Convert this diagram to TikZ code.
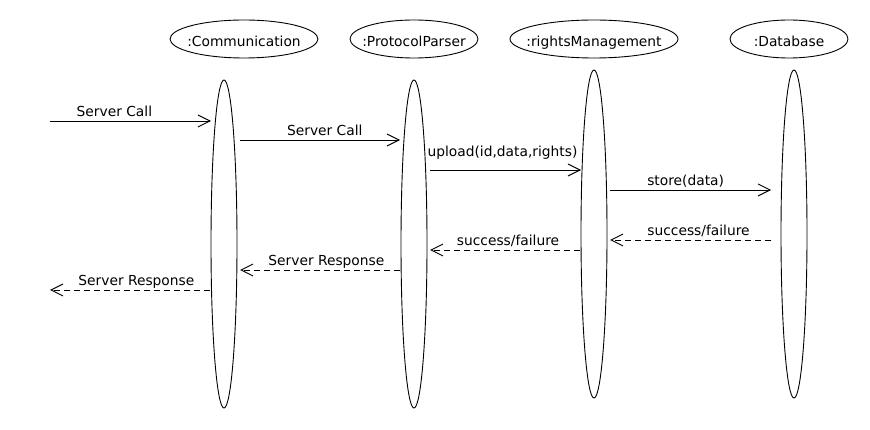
\documentclass[tikz,border=0pt]{standalone}
\usepackage{fontspec}
\setmainfont{DejaVu Sans}
\usetikzlibrary{shapes.geometric,arrows.meta,calc}
\begin{document}
\begin{tikzpicture}[x=1pt,y=-1pt,
  every node/.style={font=\fontsize{13.8}{16}\selectfont},
  hdr/.style={ellipse,draw,line width=0.9pt,inner sep=0pt,minimum height=38pt},
  life/.style={ellipse,draw,line width=0.9pt,inner sep=0pt,minimum width=26pt,minimum height=328pt},
  call/.style={line width=0.9pt,-{Straight Barb[length=12pt,width=12pt]}},
  reply/.style={call,dash pattern=on 6pt off 4pt},
  lbl/.style={anchor=base,inner sep=0pt,yshift=4pt},
  lblhigh/.style={anchor=base,inner sep=0pt,yshift=13pt}]
\useasboundingbox[fill=white] (0,0) rectangle (870,430);

% headers
\node[hdr,minimum width=148pt] (hc) at (244,39) {};
\node[anchor=base] (tc) at (244,46.5) {:Communication};
\node[hdr,minimum width=128pt] (hp) at (414,39) {};
\node[anchor=base] (tp) at (414,46.5) {:ProtocolParser};
\node[hdr,minimum width=168pt] (hr) at (594,39) {};
\node[anchor=base] (tr) at (594,46.5) {:rightsManagement};
\node[hdr,minimum width=118pt] (hd) at (789,39) {};
\node[anchor=base] (td) at (789,46.5) {:Database};

% lifelines
\node[life] (lc) at (224,244) {};
\node[life] (lp) at (414,244) {};
\node[life] (lr) at (594,234) {};
\node[life] (ld) at (794,234) {};

\coordinate (in) at (50,121);
\coordinate (out) at (50,290);

% messages
\draw[call] (in) -- node[lbl,pos=0.4] (m1) {Server Call} ($(lc.center)+(-13,-123)$);
\draw[call] ($(lc.center)+(16,-104)$) -- node[lbl,pos=0.53] (m2) {Server Call} ($(lp.center)+(-14,-104)$);
\draw[call] ($(lp.center)+(16,-74)$) -- node[lblhigh,pos=0.48] (m3) {upload(id,data,rights)} ($(lr.center)+(-13,-64)$);
\draw[call] ($(lr.center)+(16,-44)$) -- node[lbl,pos=0.47] (m4) {store(data)} ($(ld.center)+(-23,-44)$);
\draw[reply] ($(ld.center)+(-23,6)$) -- node[lbl,pos=0.45] (m5) {success/failure} ($(lr.center)+(16,6)$);
\draw[reply] ($(lr.center)+(-14,16)$) -- node[lbl,pos=0.48] (m6) {success/failure} ($(lp.center)+(16,6)$);
\draw[reply] ($(lp.center)+(-14,26)$) -- node[lbl,pos=0.46] (m7) {Server Response} ($(lc.center)+(16,26)$);
\draw[reply] ($(lc.center)+(-14,46)$) -- node[lbl,pos=0.46] (m8) {Server Response} (out);
\end{tikzpicture}
\end{document}
